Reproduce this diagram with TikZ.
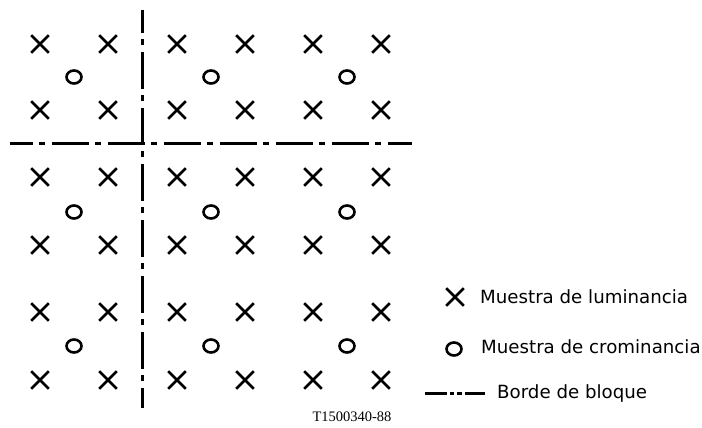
\documentclass[tikz,border=0pt]{standalone}
\usepackage{fontspec}
\setmainfont{DejaVu Sans}
\newfontfamily\codefont{Liberation Serif}
\usetikzlibrary{shapes.misc,shapes.geometric}
\begin{document}
\begin{tikzpicture}[x=1pt,y=-1pt,
  lum/.style={cross out,draw,minimum size=15pt,inner sep=0pt,line width=2.6pt},
  crom/.style={ellipse,draw,minimum width=15pt,minimum height=13pt,inner sep=0pt,line width=2.6pt},
  borde/.style={line width=3pt,dash pattern=on 37pt off 6pt on 6pt off 7pt,dash phase=14pt},
  lbl/.style={anchor=west,inner sep=0pt,font=\fontsize{18.2}{21}\selectfont}]
\useasboundingbox (0,0) rectangle (702,428);
% luminance samples
\foreach \x [count=\i] in {40,108,177,245,313,381}{
  \foreach \y [count=\j] in {44,110,177,245,312,380}{
    \node[lum] (l\i-\j) at (\x,\y) {};
  }
}
% chrominance samples
\foreach \x [count=\i] in {74,211,347}{
  \foreach \y [count=\j] in {77,212,346}{
    \node[crom] (c\i-\j) at (\x,\y) {};
  }
}
% block borders
\coordinate (vt) at (142,10);
\coordinate (vb) at (142,408);
\coordinate (hl) at (10,143);
\coordinate (hr) at (412,143);
\draw[borde] (vt) -- (vb);
\draw[borde] (hl) -- (hr);
% legend
\node[lum] (kl) at (455,297) {};
\node[lbl] (tl) at (480,297) {Muestra de luminancia};
\node[crom] (kc) at (454,349) {};
\node[lbl] (tc) at (481,347) {Muestra de crominancia};
\coordinate (kb1) at (425,393);
\coordinate (kb2) at (485,393);
\draw[line width=3pt,dash pattern=on 22pt off 3pt on 4pt off 3pt on 5pt off 3pt on 30pt] (kb1) -- (kb2);
\node[lbl] (tb) at (497,393) {Borde de bloque};
\node[inner sep=0pt,font=\codefont\fontsize{14.5}{16}\selectfont] (code) at (352,417) {T1500340-88};
\end{tikzpicture}
\end{document}
